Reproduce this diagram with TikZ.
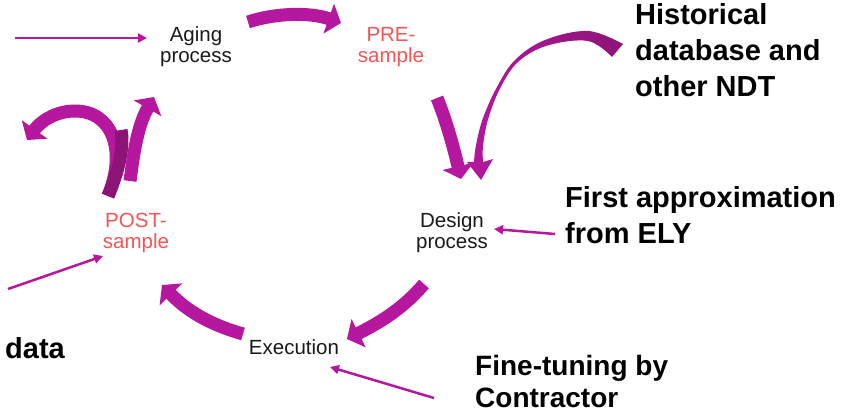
\documentclass[tikz,border=0pt]{standalone}
\usepackage{fontspec}
\setmainfont{Liberation Sans}
\usetikzlibrary{arrows.meta}
\definecolor{mag}{RGB}{181,23,158}
\definecolor{magdark}{RGB}{140,20,118}
\definecolor{redtxt}{RGB}{245,85,85}
\definecolor{txt}{RGB}{25,25,25}
\begin{document}
\begin{tikzpicture}[x=1pt,y=-1pt,
  small/.style={font=\fontsize{20.5}{21}\selectfont, align=center, inner sep=0pt, text=txt},
  redlabel/.style={small, text=redtxt},
  big/.style={font=\bfseries\fontsize{29}{36}\selectfont, align=left, inner sep=0pt, anchor=north west, text=black},
  thinarrow/.style={draw=mag, line width=2.5pt, -{Triangle[length=9pt,width=9pt]}},
  thickarrow/.style={draw=mag, line width=13pt, -{Triangle[length=13pt,width=31pt]}}]
\useasboundingbox (0,0) rectangle (866,414);

% labels
\node[small] (aging) at (196,47) {Aging\\process};
\node[redlabel] (pre) at (391,47) {PRE-\\sample};
\node[small] (design) at (452,233) {Design\\process};
\node[small] (exec) at (294,347) {Execution};
\node[redlabel] (post) at (136,233) {POST-\\sample};
\node[big] (hist) at (635,3) {Historical\\database and\\other NDT};
\node[big] (ely) at (565,186) {First approximation\\from ELY};
\node[big, font=\bfseries\fontsize{28}{32}\selectfont] (fine) at (475,355) {Fine-tuning by\\Contractor};
\node[big] (data) at (5,337) {data};

% thin input arrows
\coordinate (s1) at (15,38);   \coordinate (e1) at (147,38);
\coordinate (s2) at (8,289);   \coordinate (e2) at (103,256);
\coordinate (s3) at (434,398); \coordinate (e3) at (330,367);
\coordinate (s4) at (555,234); \coordinate (e4) at (494,229);
\draw[thinarrow] (s1) -- (e1);
\draw[thinarrow] (s2) -- (e2);
\draw[thinarrow] (s3) -- (e3);
\draw[thinarrow] (s4) -- (e4);

% thick cycle arrows
\coordinate (a1) at (248,22);  \coordinate (a2) at (341,23);
\draw[thickarrow] (a1) .. controls (275,13) and (310,12) .. (a2);

\coordinate (b1) at (437,98);  \coordinate (b2) at (461,179);
\draw[thickarrow] (b1) .. controls (446,120) and (453,145) .. (b2);

\coordinate (d1) at (424,284); \coordinate (d2) at (347,339);
\draw[thickarrow] (d1) .. controls (405,306) and (385,320) .. (d2);

\coordinate (x1) at (243,334); \coordinate (x2) at (162,285);
\draw[thickarrow] (x1) .. controls (215,326) and (190,314) .. (x2);

% left curl (behind)
\coordinate (c1) at (108,196); \coordinate (c2) at (27,140);
\draw[thickarrow] (c1) .. controls (127,150) and (112,111) .. (75,111)
  .. controls (55,111) and (40,122) .. (c2);
\draw[draw=magdark, line width=13pt] (c1) .. controls (120,168) and (124,145) .. (121,130);

% upward arrow to aging
\coordinate (f1) at (130,181); \coordinate (f2) at (154,97);
\draw[thickarrow] (f1) .. controls (134,150) and (138,125) .. (f2);

% historical tapered arrow
\shade[left color=mag, middle color=mag, right color=magdark]
  plot[smooth, tension=0.6] coordinates {(623,44) (588,31) (545,40) (515,60) (497,87) (483,118) (476,145) (474,162)}
  -- (467,162) -- (481,180) -- (493,159) -- (483,162)
  -- plot[smooth, tension=0.6] coordinates {(483,162) (483,146) (488,119.5) (500,88.5) (518,62) (547.5,45.5) (588,41) (612,57)}
  -- cycle;
\end{tikzpicture}
\end{document}
